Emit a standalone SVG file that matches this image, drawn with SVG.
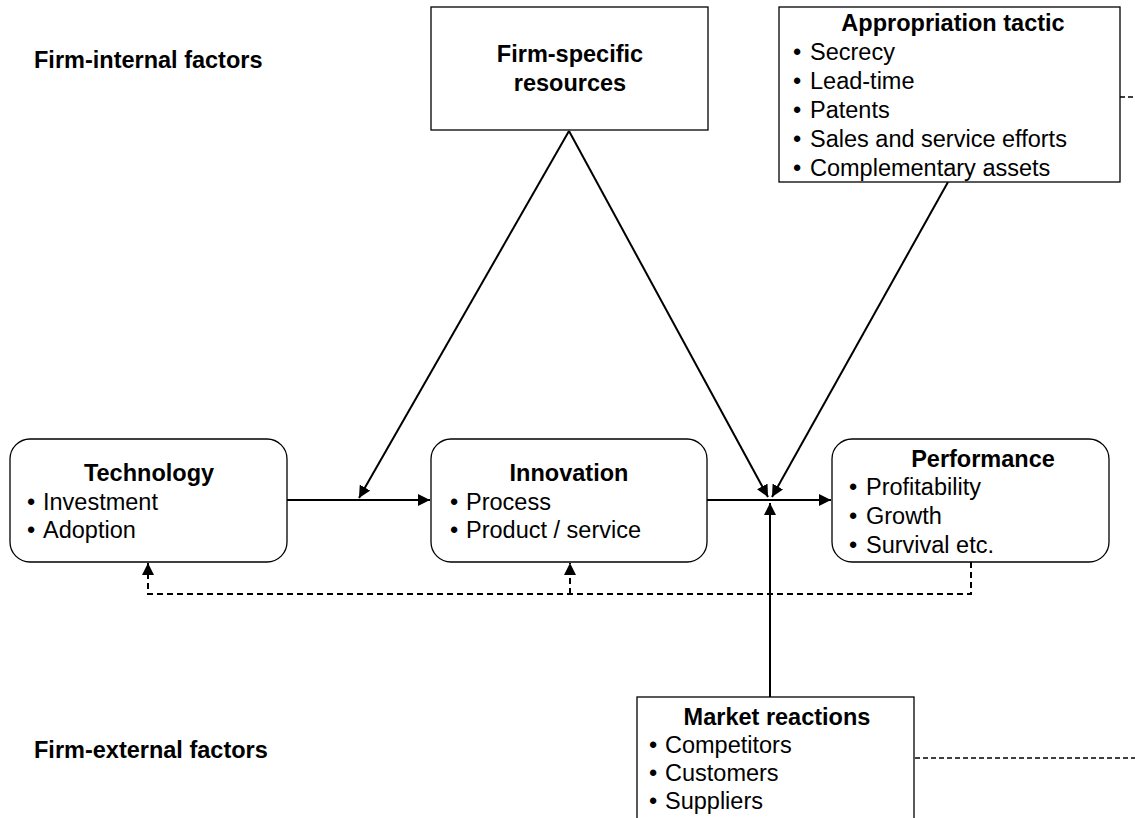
<svg xmlns="http://www.w3.org/2000/svg" width="1135" height="818" viewBox="0 0 1135 818">
<style>
text{font-family:"Liberation Sans",Arial,sans-serif;fill:#000;font-size:23.5px}
.b{font-weight:bold}
.t{font-weight:bold;text-anchor:middle}
.box{fill:#fff;stroke:#000;stroke-width:1.3}
.c{fill:none;stroke:#000;stroke-width:2}
.d{fill:none;stroke:#000;stroke-width:2;stroke-dasharray:6 4}
.d1{fill:none;stroke:#000;stroke-width:1.3;stroke-dasharray:5 3}
</style>
<defs>
<marker id="a" markerUnits="userSpaceOnUse" markerWidth="14" markerHeight="12" refX="12" refY="6" orient="auto">
<path d="M0,0 L12,6 L0,12 Z" fill="#000"/>
</marker>
</defs>
<text class="b" x="34" y="68">Firm-internal factors</text>
<text class="b" x="34" y="758">Firm-external factors</text>
<g id="connectors">
<line class="c" x1="287" y1="500" x2="430" y2="500" marker-end="url(#a)"/>
<line class="c" x1="569" y1="131" x2="359" y2="498" marker-end="url(#a)"/>
<line class="c" x1="569" y1="131" x2="768" y2="497" marker-end="url(#a)"/>
<line class="c" x1="948" y1="182" x2="772" y2="497" marker-end="url(#a)"/>
<line class="c" x1="707" y1="500" x2="831" y2="500" marker-end="url(#a)"/>
<line class="c" x1="770" y1="697" x2="770" y2="503" marker-end="url(#a)"/>
<polyline class="d" points="971,562 971,594 148,594 148,563" marker-end="url(#a)"/>
<polyline class="d" points="570,594 570,563" marker-end="url(#a)"/>
<line class="d1" x1="1120" y1="97" x2="1135" y2="97"/>
<line class="d1" x1="915" y1="758" x2="1135" y2="758"/>
</g>
<g id="firm-specific">
<rect class="box" x="431" y="7" width="277" height="123"/>
<text class="t" x="570" y="62">Firm-specific</text>
<text class="t" x="570" y="91">resources</text>
</g>
<g id="appropriation">
<rect class="box" x="779" y="7" width="341" height="175"/>
<text class="t" x="953" y="31">Appropriation tactic</text>
<text y="60"><tspan x="793">•</tspan><tspan x="810">Secrecy</tspan></text>
<text y="89"><tspan x="793">•</tspan><tspan x="810">Lead-time</tspan></text>
<text y="118"><tspan x="793">•</tspan><tspan x="810">Patents</tspan></text>
<text y="147"><tspan x="793">•</tspan><tspan x="810">Sales and service efforts</tspan></text>
<text y="176"><tspan x="793">•</tspan><tspan x="810">Complementary assets</tspan></text>
</g>
<g id="technology">
<rect class="box" x="10" y="439" width="277" height="123" rx="20"/>
<text class="t" x="149" y="481">Technology</text>
<text y="510"><tspan x="27">•</tspan><tspan x="43">Investment</tspan></text>
<text y="538"><tspan x="27">•</tspan><tspan x="43">Adoption</tspan></text>
</g>
<g id="innovation">
<rect class="box" x="431" y="439" width="276" height="123" rx="20"/>
<text class="t" x="569" y="481">Innovation</text>
<text y="510"><tspan x="450">•</tspan><tspan x="466">Process</tspan></text>
<text y="538"><tspan x="450">•</tspan><tspan x="466">Product / service</tspan></text>
</g>
<g id="performance">
<rect class="box" x="832" y="439" width="277" height="123" rx="20"/>
<text class="t" x="983" y="467">Performance</text>
<text y="495"><tspan x="849">•</tspan><tspan x="866">Profitability</tspan></text>
<text y="524"><tspan x="849">•</tspan><tspan x="866">Growth</tspan></text>
<text y="553"><tspan x="849">•</tspan><tspan x="866">Survival etc.</tspan></text>
</g>
<g id="market">
<rect class="box" x="637" y="697" width="277" height="130"/>
<text class="t" x="777" y="725">Market reactions</text>
<text y="753"><tspan x="649">•</tspan><tspan x="665">Competitors</tspan></text>
<text y="781"><tspan x="649">•</tspan><tspan x="665">Customers</tspan></text>
<text y="809"><tspan x="649">•</tspan><tspan x="665">Suppliers</tspan></text>
</g>
</svg>
